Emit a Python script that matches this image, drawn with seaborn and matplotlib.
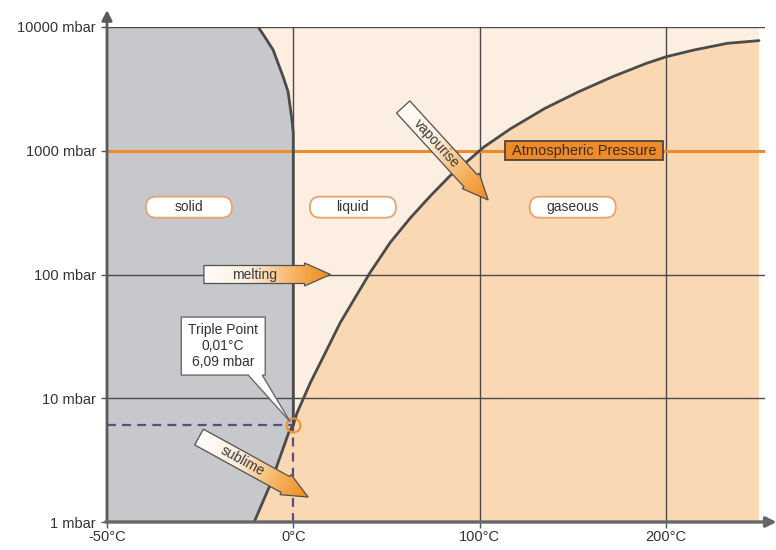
import numpy as np
import matplotlib
matplotlib.use("Agg")
import matplotlib.pyplot as plt
from matplotlib.colors import LinearSegmentedColormap
from matplotlib.patches import Polygon, FancyBboxPatch, Rectangle
import seaborn as sns

# phase boundaries of water
SUB_T = [-10.5, -6.2, -1.3, 0.01]
SUB_P = [1.0, 2.0, 5.2, 6.09]
MELT_T = [0.01, 0.0, 0.0, -0.35, -1.4, -2.7, -5.4, -7.1, -9.4]
MELT_P = [6.09, 100, 1391, 1772, 3000, 3945, 6516, 7850, 10000]
VAP_T = [0.01, 2.0, 9.1, 16.3, 25.2, 34.2, 41.3, 52.1, 62.8, 73.5, 84.3, 95.0,
         102.3, 116.7, 134.9, 153.1, 171.3, 189.4, 200.3, 214.9, 233.0, 250]
VAP_P = [6.09, 7.6, 13.3, 21.9, 40.8, 68.9, 104, 182, 286, 430, 631, 861,
         1072, 1508, 2193, 2994, 3960, 5077, 5756, 6510, 7380, 7760]

TRIPLE = (0.01, 6.09)
ATM_P = 1000

X_TICKS = [-50, 0, 100, 200]
X_LABELS = ["-50°C", "0°C", "100°C", "200°C"]
Y_TICKS = [1, 10, 100, 1000, 10000]
Y_LABELS = ["1 mbar", "10 mbar", "100 mbar", "1000 mbar", "10000 mbar"]

PHASES = ["solid", "liquid", "gaseous"]
PHASE_T = [-28, 32, 150]
PHASE_P = [350, 350, 350]

T_MIN, T_MAX, T_END = -50, 250, 253
P_MIN, P_MAX = 1, 10000

C_SOLID = "#c6c8cb"
C_LIQUID = "#fcefe1"
C_GAS = "#fad8b3"
C_CURVE = "#4b4b4b"
C_GRID = "#4a4a4a"
C_ORANGE = "#ec8a2c"

ARROW_CMAP = LinearSegmentedColormap.from_list(
    "arr", [(0, "#fffdf9"), (0.35, "#fdf0e0"), (0.72, "#f6b15e"), (1, "#ee8a1e")])


def fwd(t):
    t = np.asarray(t, float)
    return np.where(t < 0, t / 50.0, t / 100.0)


def inv(u):
    u = np.asarray(u, float)
    return np.where(u < 0, u * 50.0, u * 100.0)


sns.set_theme(style="white")
plt.rcParams["font.family"] = ["Liberation Sans", "DejaVu Sans"]

W, H = 776, 550
fig = plt.figure(figsize=(W / 100, H / 100), dpi=100)
ax = fig.add_axes([107 / W, 28 / H, 657.6 / W, 495 / H])
ax.set_xscale("function", functions=(fwd, inv))
ax.set_yscale("log")
ax.set_xlim(T_MIN, T_END)
ax.set_ylim(P_MIN, P_MAX)

# regions
ax.fill_between([T_MIN, T_MAX], P_MIN, P_MAX, color=C_LIQUID, lw=0, zorder=0)
gas_t = SUB_T + VAP_T[1:] + [T_MAX, SUB_T[0]]
gas_p = SUB_P + VAP_P[1:] + [P_MIN, P_MIN]
ax.fill(gas_t, gas_p, color=C_GAS, lw=0, zorder=0.5)
sol_t = [T_MIN] + SUB_T + MELT_T[1:] + [T_MIN]
sol_p = [P_MIN] + SUB_P + MELT_P[1:] + [P_MAX]
ax.fill(sol_t, sol_p, color=C_SOLID, lw=0, zorder=0.6)

# grid
for p in [10, 100, 10000]:
    ax.plot([T_MIN, T_END], [p, p], color=C_GRID, lw=1.0, zorder=1)
ax.plot([0, 0], [TRIPLE[1], P_MAX], color=C_GRID, lw=1.0, zorder=1)
for t in [100, 200]:
    ax.plot([t, t], [P_MIN, P_MAX], color=C_GRID, lw=1.0, zorder=1)
ax.plot([T_MIN, T_END], [ATM_P, ATM_P], color=C_ORANGE, lw=2.2, zorder=1.5)

# triple point guides
ax.plot([T_MIN, TRIPLE[0]], [TRIPLE[1], TRIPLE[1]], color="#5b4b80", lw=1.6,
        dashes=(4, 2.8), zorder=2)
ax.plot([TRIPLE[0], TRIPLE[0]], [P_MIN, TRIPLE[1]], color="#5b4b80", lw=1.6,
        dashes=(4, 2.8), zorder=2)

# phase curves
for tt, pp in [(SUB_T, SUB_P), (MELT_T, MELT_P), (VAP_T, VAP_P)]:
    sns.lineplot(x=tt, y=pp, sort=False, estimator=None, color=C_CURVE,
                 lw=2.0, ax=ax, zorder=3, solid_joinstyle="round")
ax.plot(*TRIPLE, marker="o", ms=10, mfc="none", mec="#f0922e", mew=1.5, zorder=4)

ax.set_xticks(X_TICKS)
ax.set_xticklabels(X_LABELS)
ax.set_yticks(Y_TICKS)
ax.set_yticklabels(Y_LABELS)
ax.xaxis.set_minor_locator(matplotlib.ticker.NullLocator())
ax.yaxis.set_minor_locator(matplotlib.ticker.NullLocator())
ax.tick_params(axis="both", length=4, width=1, color="#555555", labelcolor="#333333",
               labelsize=10.5)
ax.tick_params(axis="y", pad=4)
ax.tick_params(axis="x", pad=2)
ax.tick_params(left=True, bottom=True)
for s in ax.spines.values():
    s.set_visible(False)
ax.grid(False)

ax.annotate("", xy=(0, 1 + 17 / 495), xytext=(0, 0), xycoords="axes fraction",
            annotation_clip=False,
            arrowprops=dict(arrowstyle="-|>,head_length=0.5,head_width=0.25",
                            color="#5a5a5a", lw=2, shrinkA=0, shrinkB=0))
ax.annotate("", xy=(1 + 12 / 657, 0), xytext=(-0.002, 0), xycoords="axes fraction",
            annotation_clip=False,
            arrowprops=dict(arrowstyle="-|>,head_length=0.5,head_width=0.25",
                            color="#666666", lw=2.4, shrinkA=0, shrinkB=0))

# overlay in pixel space for the drawn-on labels
ov = fig.add_axes([0, 0, 1, 1])
ov.set_autoscale_on(False)
ov.set_xlim(0, W)
ov.set_ylim(0, H)
ov.axis("off")
ov.patch.set_alpha(0)


def px(t, p):
    return np.array(ax.transData.transform((t, p)))


def grad_arrow(tail, tip, label, body_w=18, head_w=23, head_l=26):
    a = px(*tail)
    b = px(*tip)
    d = b - a
    L = np.hypot(*d)
    u = d / L
    n = np.array([-u[1], u[0]])
    m = b - u * head_l
    verts = [a + n * body_w / 2, m + n * body_w / 2, m + n * head_w / 2, b,
             m - n * head_w / 2, m - n * body_w / 2, a - n * body_w / 2]
    vs = np.array(verts)
    x0, y0 = vs.min(0)
    x1, y1 = vs.max(0)
    gx, gy = np.meshgrid(np.linspace(x0, x1, 200), np.linspace(y0, y1, 200))
    g = ((gx - a[0]) * u[0] + (gy - a[1]) * u[1]) / L
    im = ov.imshow(g, cmap=ARROW_CMAP, extent=(x0, x1, y0, y1), origin="lower",
                   vmin=0, vmax=1, aspect="auto", interpolation="bilinear", zorder=2)
    poly = Polygon(verts, closed=True, fc="none", ec="#505050", lw=0.9, zorder=3)
    ov.add_patch(poly)
    im.set_clip_path(poly)
    ang = np.degrees(np.arctan2(u[1], u[0]))
    c = a + u * (L - head_l) / 2
    ov.text(c[0], c[1], label, rotation=ang, rotation_mode="anchor", ha="center",
            va="center", fontsize=10, color="#3a3a3a", zorder=4)


grad_arrow((-24, 100), (20, 100), "melting")
grad_arrow((59, 2258), (104.6, 400), "vapourise")
grad_arrow((-25.3, 4.86), (8.0, 1.59), "sublime")

for name, t, p in zip(PHASES, PHASE_T, PHASE_P):
    c = px(t, p)
    ov.add_patch(FancyBboxPatch((c[0] - 43, c[1] - 10.5), 86, 21,
                                boxstyle="round,pad=0,rounding_size=10",
                                fc="white", ec="#e4a570", lw=1.3, zorder=2))
    ov.text(c[0], c[1], name, ha="center", va="center", fontsize=10,
            color="#333333", zorder=3)

c = px(156, ATM_P)
ov.add_patch(Rectangle((c[0] - 79, c[1] - 9.5), 158, 19, fc="#ee8a27",
                       ec="#3d3d3d", lw=1.2, zorder=2))
ov.text(c[0], c[1], "Atmospheric Pressure", ha="center", va="center",
        fontsize=10.5, color="#3a2e24", zorder=3)

# triple point callout
c = px(-18.8, 26.4)
tp = px(*TRIPLE) + np.array([-3, 3])
hw, hh = 42, 29
verts = [(c[0] - hw, c[1] + hh), (c[0] + hw, c[1] + hh), (c[0] + hw, c[1] - hh),
         (c[0] + 39, c[1] - hh), tuple(tp), (c[0] + 25, c[1] - hh),
         (c[0] - hw, c[1] - hh)]
ov.add_patch(Polygon(verts, closed=True, fc="white", ec="#6a6a6a", lw=1.0, zorder=2))
ov.text(c[0], c[1], "Triple Point\n0,01°C\n6,09 mbar", ha="center", va="center",
        fontsize=10, color="#333333", linespacing=1.15, zorder=3)

fig.savefig("out.png", dpi=100)
